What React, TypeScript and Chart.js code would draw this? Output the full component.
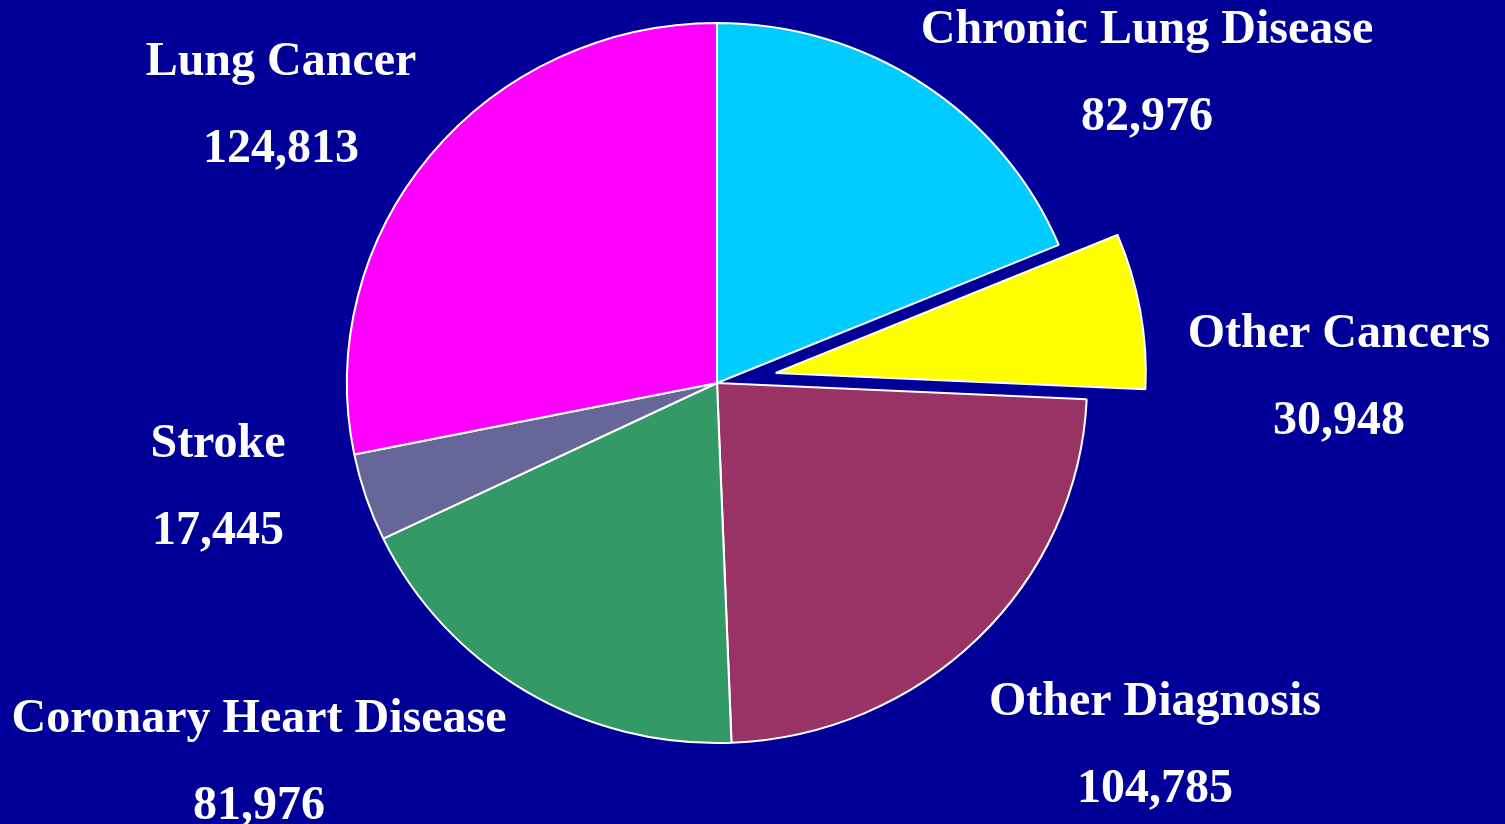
import React, { useEffect, useRef } from "react";
import { Chart, registerables } from "chart.js";

Chart.register(...registerables);

// ---- data ----
const categories = [
  "Chronic Lung Disease",
  "Other Cancers",
  "Other Diagnosis",
  "Coronary Heart Disease",
  "Stroke",
  "Lung Cancer",
];
const deaths = [82976, 30948, 104785, 81976, 17445, 124813];
const explodedSlice = [0, 1, 0, 0, 0, 0];

// ---- styles / layout ----
const sliceColors = ["#00CCFF", "#FFFF00", "#993366", "#339966", "#666699", "#FF00FF"];
const BG = "#000099";
const RADIUS = 360;
const X_STRETCH = 1.028;
const EXPLODE_PX = 58;
// label anchor (name baseline) relative to pie centre, in px
const labelDX = [430, 622, 438, -458, -499, -436];
const labelDY = [-340, -36, 332, 349, 74, -308];
const LINE_GAP = 87;
const FONT = "bold 48px 'Liberation Serif', 'Times New Roman', serif";

const piePlugin = {
  id: "pieExtras",
  beforeDatasetsDraw(chart: any) {
    const { ctx, chartArea } = chart;
    const cx = (chartArea.left + chartArea.right) / 2;
    const cy = (chartArea.top + chartArea.bottom) / 2;
    const meta = chart.getDatasetMeta(0);
    meta.data.forEach((el: any, i: number) => {
      const mid = (el.startAngle + el.endAngle) / 2;
      const d = explodedSlice[i] ? EXPLODE_PX : 0;
      el.x = cx + Math.cos(mid) * d;
      el.y = cy + Math.sin(mid) * d;
    });
    ctx.save();
    ctx.translate(cx, cy);
    ctx.scale(X_STRETCH, 1);
    ctx.translate(-cx, -cy);
  },
  afterDatasetsDraw(chart: any) {
    chart.ctx.restore();
  },
  afterDraw(chart: any) {
    const { ctx, chartArea } = chart;
    const cx = (chartArea.left + chartArea.right) / 2;
    const cy = (chartArea.top + chartArea.bottom) / 2;
    ctx.save();
    ctx.fillStyle = "#FFFFFF";
    ctx.font = FONT;
    ctx.textAlign = "center";
    ctx.textBaseline = "alphabetic";
    categories.forEach((name, i) => {
      const x = cx + labelDX[i];
      const y = cy + labelDY[i];
      ctx.fillText(name, x, y);
      ctx.fillText(deaths[i].toLocaleString("en-US"), x, y + LINE_GAP);
    });
    ctx.restore();
  },
};

export default function App() {
  const ref = useRef<HTMLCanvasElement | null>(null);

  useEffect(() => {
    if (!ref.current) return;
    const chart = new Chart(ref.current, {
      type: "pie",
      data: {
        labels: categories,
        datasets: [
          {
            data: deaths,
            backgroundColor: sliceColors,
            borderColor: "#FFFFFF",
            borderWidth: 2,
            radius: RADIUS,
            clip: false,
          } as any,
        ],
      },
      options: {
        responsive: false,
        animation: false,
        events: [],
        layout: { padding: { left: 0, right: 71, top: 0, bottom: 58 } },
        plugins: {
          legend: { display: false },
          tooltip: { enabled: false },
        },
      },
      plugins: [piePlugin],
    });
    return () => chart.destroy();
  }, []);

  return (
    <div
      style={{
        position: "fixed",
        left: 0,
        top: 0,
        width: 1505,
        height: 824,
        background: BG,
        overflow: "hidden",
      }}
    >
      <canvas ref={ref} width={1505} height={824} style={{ display: "block", width: 1505, height: 824 }} />
    </div>
  );
}
